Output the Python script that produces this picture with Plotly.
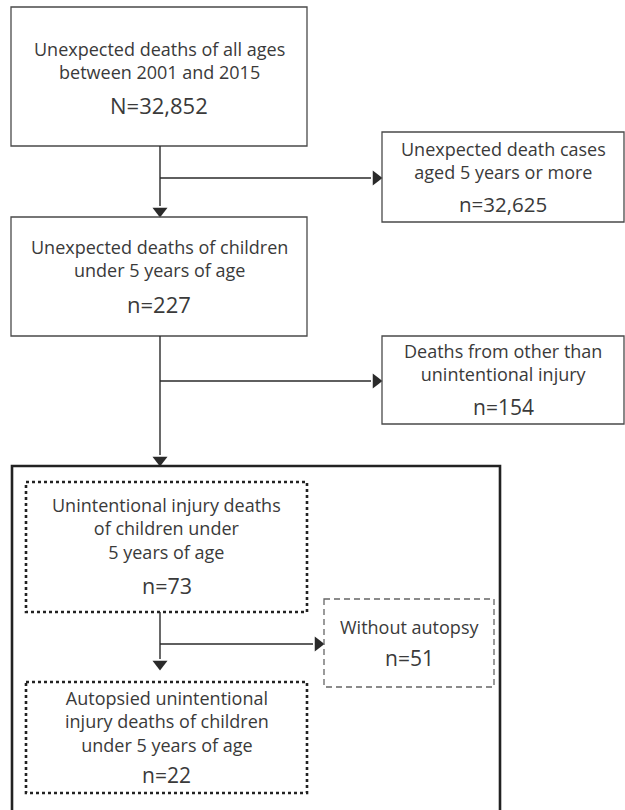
import plotly.graph_objects as go

# ---- data ----
box_labels = [
    "Unexpected deaths of all ages<br>between 2001 and 2015",
    "Unexpected death cases<br>aged 5 years or more",
    "Unexpected deaths of children<br>under 5 years of age",
    "Deaths from other than<br>unintentional injury",
    "Unintentional injury deaths<br>of children under<br>5 years of age",
    "Without autopsy",
    "Autopsied unintentional<br>injury deaths of children<br>under 5 years of age",
]
count_prefix = ["N", "n", "n", "n", "n", "n", "n"]
counts = [32852, 32625, 227, 154, 73, 51, 22]

# ---- layout (pixel geometry, page coordinates) ----
W, H = 625, 810
boxes = [  # x0, x1, y0, y1, style
    (11, 307, 7, 146, "solid"),
    (382, 624, 132, 222, "solid"),
    (11, 307, 217, 336, "solid"),
    (382, 624, 336, 424, "solid"),
    (26, 307, 482, 612, "dot"),
    (324, 494, 599, 687, "dash"),
    (26, 307, 682, 793, "dot"),
]
label_cy = [60, 160.5, 258, 362.5, 528.5, 627, 721]  # centre of label block
count_y = [105, 204, 304, 407, 585, 658, 775]
count_size = [22, 20.5, 22, 21, 21.5, 21, 21]
label_size = 18
FONT = "Open Sans"
TXT = "#3a3a3a"
LINE = "#2a2a2a"

outer = (12, 500, 466, 830)

# connectors: vertical (x, y0, y1-tip), horizontal (x0, x1-tip, y)
vert = [(160, 146, 217), (160, 336, 466), (160, 612, 670)]
horiz = [(160, 382, 178), (160, 382, 381), (160, 324, 644)]

fig = go.Figure()
shapes = []
for (x0, x1, y0, y1, st) in boxes:
    if st == "solid":
        ln = dict(color="#4a4a4a", width=1.3)
    elif st == "dot":
        ln = dict(color="#222222", width=2.6, dash="dot")
    else:
        ln = dict(color="#666666", width=1.3, dash="6px,4px")
    shapes.append(dict(type="rect", x0=x0, x1=x1, y0=y0, y1=y1, line=ln,
                       xref="x", yref="y", layer="above"))
shapes.append(dict(type="rect", x0=outer[0], x1=outer[1], y0=outer[2], y1=outer[3],
                   line=dict(color="#222222", width=2.6), xref="x", yref="y"))

AH = 12
tri_x, tri_y, tri_sym = [], [], []
for (x, y0, y1) in vert:
    shapes.append(dict(type="line", x0=x, x1=x, y0=y0, y1=y1 - AH + 1,
                       line=dict(color=LINE, width=1.4), xref="x", yref="y"))
    tri_x.append(x); tri_y.append(y1 - AH / 2); tri_sym.append("triangle-down")
for (x0, x1, y) in horiz:
    shapes.append(dict(type="line", x0=x0, x1=x1 - AH + 1, y0=y, y1=y,
                       line=dict(color=LINE, width=1.4), xref="x", yref="y"))
    tri_x.append(x1 - AH / 2); tri_y.append(y); tri_sym.append("triangle-right")

fig.add_trace(go.Scatter(x=tri_x, y=tri_y, mode="markers",
                         marker=dict(symbol=tri_sym, size=13, color=LINE,
                                     line=dict(width=0)),
                         hoverinfo="skip", showlegend=False))

annotations = []
for i, (x0, x1, y0, y1, st) in enumerate(boxes):
    cx = (x0 + x1) / 2
    annotations.append(dict(x=cx, y=label_cy[i], text=box_labels[i], showarrow=False,
                            xref="x", yref="y", xanchor="center", yanchor="middle",
                            align="center",
                            font=dict(family=FONT, size=label_size, color=TXT)))
    annotations.append(dict(x=cx, y=count_y[i], text=f"{count_prefix[i]}={counts[i]:,}",
                            showarrow=False, xref="x", yref="y",
                            xanchor="center", yanchor="middle",
                            font=dict(family=FONT, size=count_size[i], color=TXT)))

fig.update_layout(
    width=W, height=H, margin=dict(l=0, r=0, t=0, b=0),
    paper_bgcolor="white", plot_bgcolor="white",
    xaxis=dict(range=[0, W], visible=False, fixedrange=True),
    yaxis=dict(range=[H, 0], visible=False, fixedrange=True),
    shapes=shapes, annotations=annotations, showlegend=False,
)
fig.write_html(
    "out.html",
    config={"displayModeBar": False},
    post_script="document.body.style.margin='0';document.body.style.overflow='hidden';",
)
